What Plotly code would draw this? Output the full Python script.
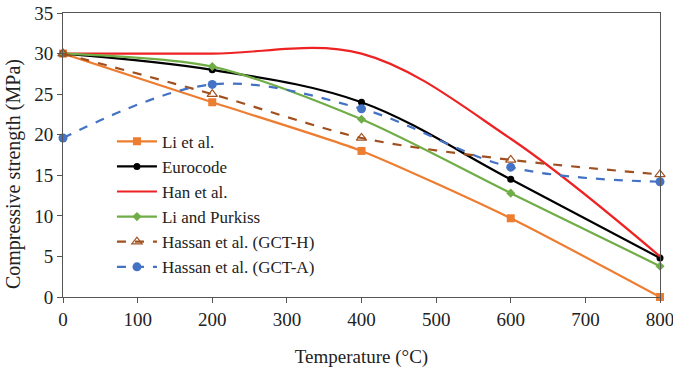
import plotly.graph_objects as go

temps = [0, 200, 400, 600, 800]
li_et_al = [30, 24.0, 18.0, 9.7, 0]
eurocode = [30, 28.0, 24.0, 14.5, 4.8]
han_et_al = [30, 30, 30, 19.5, 5.0]
li_purkiss = [30, 28.4, 21.9, 12.8, 3.8]
hassan_h = [30, 25.0, 19.6, 16.9, 15.1]
hassan_a = [19.6, 26.2, 23.2, 16.0, 14.2]

FONT = "Liberation Serif, Times New Roman, serif"

fig = go.Figure()
fig.add_trace(go.Scatter(x=temps, y=li_et_al, name="Li et al.", mode="lines+markers",
                         line=dict(color="#ED7D31", width=2.2, shape="spline", smoothing=0.6),
                         marker=dict(symbol="square", size=8, color="#ED7D31")))
fig.add_trace(go.Scatter(x=temps, y=eurocode, name="Eurocode", mode="lines+markers",
                         line=dict(color="#000000", width=2.2, shape="spline", smoothing=1.0),
                         marker=dict(symbol="circle", size=7, color="#000000")))
fig.add_trace(go.Scatter(x=temps, y=han_et_al, name="Han et al.", mode="lines",
                         line=dict(color="#EE2222", width=2.2, shape="spline", smoothing=1.0)))
fig.add_trace(go.Scatter(x=temps, y=li_purkiss, name="Li and Purkiss", mode="lines+markers",
                         line=dict(color="#70AD47", width=2.2, shape="spline", smoothing=0.8),
                         marker=dict(symbol="diamond", size=7, color="#70AD47")))
fig.add_trace(go.Scatter(x=temps, y=hassan_h, name="Hassan et al. (GCT-H)", mode="lines+markers",
                         line=dict(color="#A0501E", width=2.2, dash="dash", shape="spline", smoothing=0.8),
                         marker=dict(symbol="triangle-up-open", size=9, color="#A0501E",
                                     line=dict(width=1.2))))
fig.add_trace(go.Scatter(x=temps, y=hassan_a, name="Hassan et al. (GCT-A)", mode="lines+markers",
                         line=dict(color="#4472C4", width=2.2, dash="dash", shape="spline", smoothing=1.0),
                         marker=dict(symbol="circle", size=9, color="#4472C4")))
fig.update_traces(cliponaxis=False)

fig.update_layout(
    width=673, height=371,
    margin=dict(l=63, r=13, t=13, b=74, autoexpand=False),
    paper_bgcolor="white", plot_bgcolor="white",
    font=dict(family=FONT, size=19, color="#222222"),
    showlegend=True,
    legend=dict(x=0.082, y=0.61, xanchor="left", yanchor="top",
                bgcolor="rgba(255,255,255,0)", font=dict(family=FONT, size=17, color="#222222"),
                tracegroupgap=0, itemwidth=40),
    xaxis=dict(range=[0, 800], dtick=100, showgrid=False, zeroline=False, automargin=False,
               showline=True, linecolor="#555555", linewidth=1, mirror=True,
               ticks="outside", ticklen=5, tickcolor="#555555", ticklabeloverflow="allow",
               title=dict(text="Temperature (°C)", font=dict(family=FONT, size=19), standoff=20),
               tickfont=dict(family=FONT, size=19)),
    yaxis=dict(range=[0, 35], dtick=5, showgrid=False, zeroline=False, automargin=False,
               showline=True, linecolor="#555555", linewidth=1, mirror=True,
               ticks="outside", ticklen=5, tickcolor="#555555", ticklabeloverflow="allow",
               tickfont=dict(family=FONT, size=19)),
    annotations=[dict(text="Compressive strength (MPa)", textangle=-90,
                      xref="paper", yref="paper", x=0, y=0.433, xanchor="center", yanchor="middle",
                      xshift=-50, showarrow=False, font=dict(family=FONT, size=20, color="#222222"))],
)

fig.write_html("out.html", config={"displayModeBar": False},
               post_script="document.body.style.margin='0';")
